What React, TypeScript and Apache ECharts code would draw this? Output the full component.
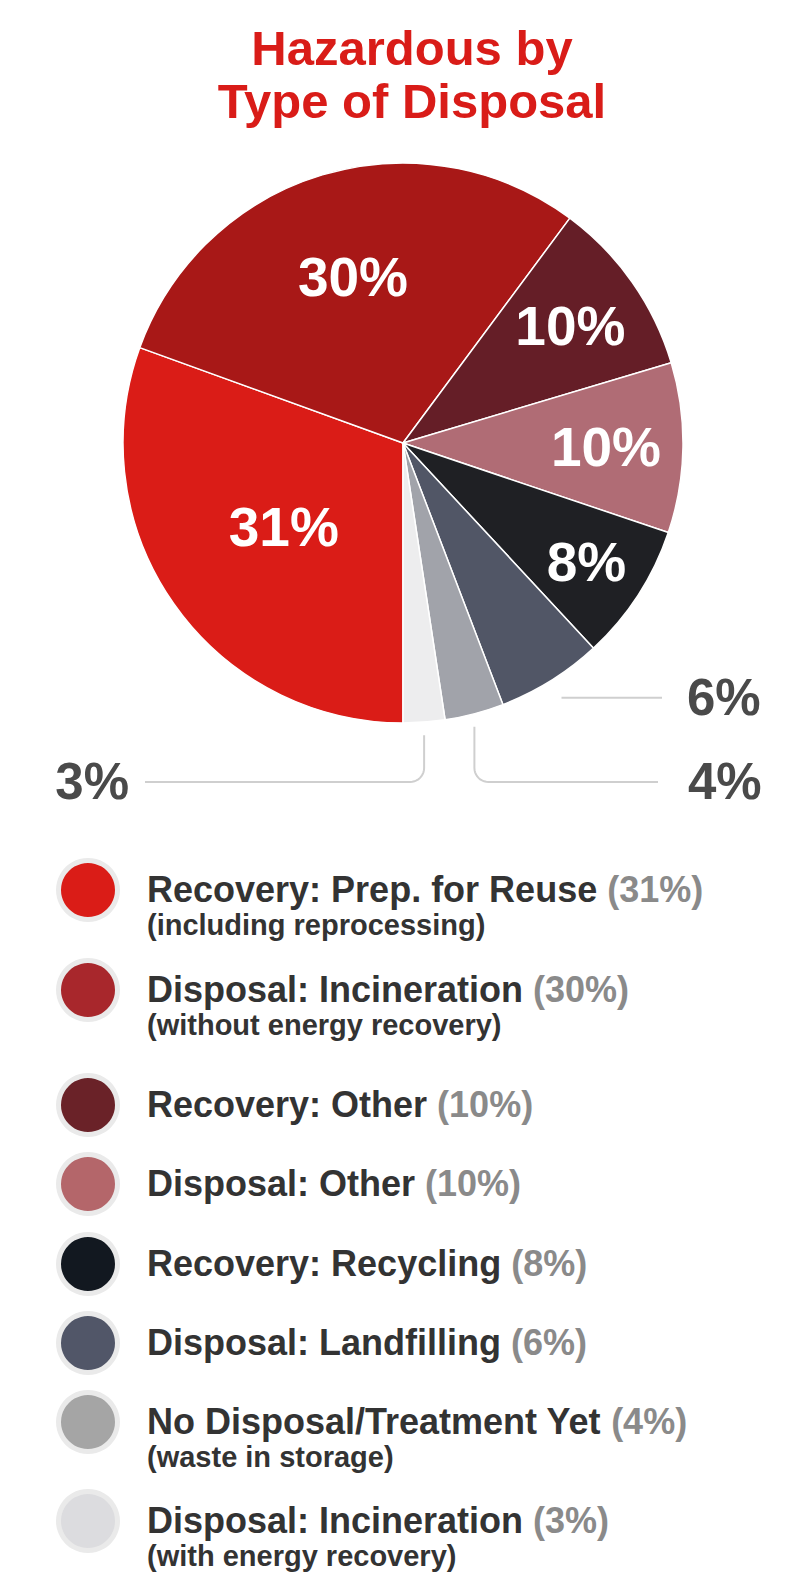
import React, { useEffect, useRef } from "react";
import * as echarts from "echarts";

// ---- data ----
const categories = [
  "Recovery: Prep. for Reuse",
  "Disposal: Incineration",
  "Recovery: Other",
  "Disposal: Other",
  "Recovery: Recycling",
  "Disposal: Landfilling",
  "No Disposal/Treatment Yet",
  "Disposal: Incineration",
];
const subtitles = [
  "(including reprocessing)",
  "(without energy recovery)",
  "",
  "",
  "",
  "",
  "(waste in storage)",
  "(with energy recovery)",
];
// slice sizes (percent of the pie)
const values = [30.5, 29.6, 10.2, 9.8, 7.9, 6.1, 3.4, 2.4];
// printed percentage labels
const percentLabels = ["31%", "30%", "10%", "10%", "8%", "6%", "4%", "3%"];

// ---- styles / layout ----
const sliceColors = ["#DA1C17", "#A81817", "#651E27", "#B06C75", "#1F2024", "#515666", "#A1A3AA", "#EDEDEE"];
const legendColors = ["#DA1C17", "#A8272C", "#6A2228", "#B4666A", "#121820", "#515668", "#A5A5A5", "#DCDCDF"];
const insideFactor = [0.52, 0.62, 0.73, 0.725, 0.78, 0, 0, 0];
const legendRowY = [890, 990, 1105, 1184, 1264, 1343, 1422, 1521];

const W = 796;
const H = 1591;
const CX = 403;
const CY = 443;
const R = 280;
const FONT = "'Liberation Sans', Arial, Helvetica, sans-serif";
const LEADER_Y = 782;
const LEADER_COLOR = "#CFCFCF";

function midAngles(): number[] {
  // degrees, clockwise from 12 o'clock, starting at 6 o'clock
  const total = values.reduce((a, b) => a + b, 0);
  let acc = 180;
  return values.map((v) => {
    const a = (v / total) * 360;
    const m = acc + a / 2;
    acc += a;
    return m;
  });
}

function polar(angleDeg: number, r: number): [number, number] {
  const t = (angleDeg * Math.PI) / 180;
  return [CX + r * Math.sin(t), CY - r * Math.cos(t)];
}

function cornerLeader(x: number, toX: number, corner: number): number[][] {
  const dxEdge = x - CX;
  const yStart = CY + Math.sqrt(Math.max(0, R * R - dxEdge * dxEdge)) + 13;
  const pts: number[][] = [[x, yStart], [x, LEADER_Y - corner]];
  const dir = toX > x ? 1 : -1;
  const ccx = x + dir * corner;
  const ccy = LEADER_Y - corner;
  const steps = 10;
  for (let s = 1; s <= steps; s++) {
    const t = (s / steps) * (Math.PI / 2);
    pts.push([ccx - dir * corner * Math.cos(t), ccy + corner * Math.sin(t)]);
  }
  pts.push([toX, LEADER_Y]);
  return pts;
}

export default function App() {
  const ref = useRef<HTMLDivElement>(null);

  useEffect(() => {
    document.body.style.margin = "0";
    if (!ref.current) return;
    const chart = echarts.init(ref.current, undefined, { renderer: "svg", width: W, height: H });
    const mids = midAngles();

    const graphics: any[] = [];

    // 6%: horizontal leader to the right
    {
      const i = 5;
      const [sx, sy] = polar(mids[i], R + 20);
      graphics.push({
        type: "polyline",
        silent: true,
        shape: { points: [[sx, sy], [662, sy]] },
        style: { stroke: LEADER_COLOR, lineWidth: 2, fill: "none" },
      });
      graphics.push({
        type: "text",
        x: 687,
        y: sy,
        style: {
          text: percentLabels[i],
          fill: "#4A4A4A",
          font: `bold 51px ${FONT}`,
          textAlign: "left",
          textVerticalAlign: "middle",
        },
      });
    }
    // 4%: down then right
    {
      const i = 6;
      const [x] = polar(mids[i], R);
      graphics.push({
        type: "polyline",
        silent: true,
        shape: { points: cornerLeader(x, 658, 14) },
        style: { stroke: LEADER_COLOR, lineWidth: 2, fill: "none" },
      });
      graphics.push({
        type: "text",
        x: 688,
        y: LEADER_Y - 1,
        style: {
          text: percentLabels[i],
          fill: "#4A4A4A",
          font: `bold 51px ${FONT}`,
          textAlign: "left",
          textVerticalAlign: "middle",
        },
      });
    }
    // 3%: down then left
    {
      const i = 7;
      const [x] = polar(mids[i], R);
      graphics.push({
        type: "polyline",
        silent: true,
        shape: { points: cornerLeader(x, 145, 14) },
        style: { stroke: LEADER_COLOR, lineWidth: 2, fill: "none" },
      });
      graphics.push({
        type: "text",
        x: 129,
        y: LEADER_Y - 1,
        style: {
          text: percentLabels[i],
          fill: "#4A4A4A",
          font: `bold 51px ${FONT}`,
          textAlign: "right",
          textVerticalAlign: "middle",
        },
      });
    }

    // legend
    categories.forEach((name, i) => {
      const y = legendRowY[i];
      graphics.push({
        type: "circle",
        silent: true,
        shape: { cx: 88, cy: y, r: 32 },
        style: { fill: "#EAEAEA" },
      });
      graphics.push({
        type: "circle",
        silent: true,
        shape: { cx: 88, cy: y, r: 27 },
        style: { fill: legendColors[i] },
      });
      graphics.push({
        type: "text",
        x: 147,
        y: y - 1,
        style: {
          text: `{m|${name} }{p|(${percentLabels[i]})}`,
          textAlign: "left",
          textVerticalAlign: "middle",
          rich: {
            m: { fill: "#333333", fontSize: 36, fontWeight: "bold", fontFamily: FONT },
            p: { fill: "#8A8A8A", fontSize: 36, fontWeight: "bold", fontFamily: FONT },
          },
        },
      });
      if (subtitles[i]) {
        graphics.push({
          type: "text",
          x: 147,
          y: y + 35,
          style: {
            text: subtitles[i],
            fill: "#333333",
            font: `bold 29px ${FONT}`,
            textAlign: "left",
            textVerticalAlign: "middle",
          },
        });
      }
    });

    chart.setOption({
      animation: false,
      title: {
        text: "Hazardous by\nType of Disposal",
        left: 407,
        top: 16,
        textAlign: "center",
        textStyle: {
          color: "#D91C18",
          fontSize: 49,
          fontWeight: "bold",
          fontFamily: FONT,
          lineHeight: 53,
        },
      },
      series: [
        {
          type: "pie",
          center: [CX, CY],
          radius: [0, R],
          startAngle: 270,
          clockwise: true,
          avoidLabelOverlap: false,
          silent: true,
          emphasis: { disabled: true },
          itemStyle: { borderColor: "#ffffff", borderWidth: 1.5 },
          label: {
            show: true,
            position: "inside",
            formatter: (p: any) => percentLabels[p.dataIndex],
            color: "#ffffff",
            fontSize: 55,
            fontWeight: "bold",
            fontFamily: FONT,
          },
          labelLine: { show: false },
          labelLayout: (p: any) => {
            const f = insideFactor[p.dataIndex];
            if (!f) return {};
            const [x, y] = polar(mids[p.dataIndex], f * R);
            return { x, y, align: "center", verticalAlign: "middle" };
          },
          data: values.map((v, i) => ({
            value: v,
            name: subtitles[i] ? `${categories[i]} ${subtitles[i]}` : categories[i],
            itemStyle: { color: sliceColors[i] },
            label: { show: insideFactor[i] > 0 },
          })),
        },
      ],
      graphic: graphics,
    });

    return () => {
      chart.dispose();
    };
  }, []);

  return <div ref={ref} style={{ width: W, height: H }} />;
}
